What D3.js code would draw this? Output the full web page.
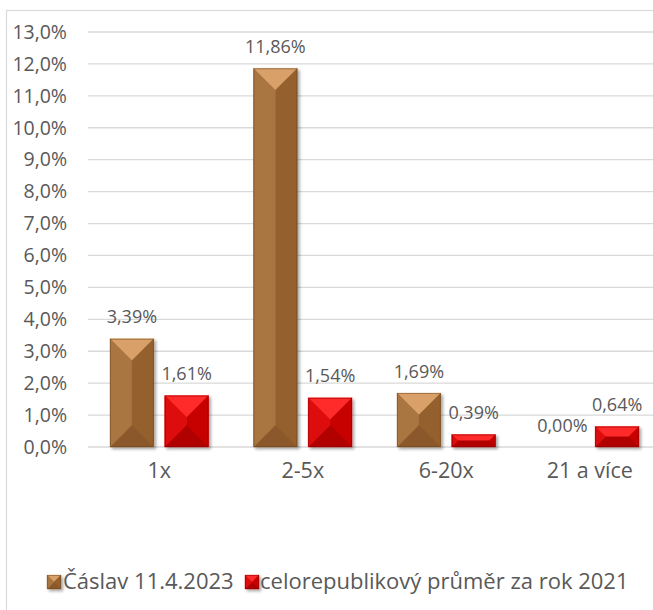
<!DOCTYPE html>
<html>
<head>
<meta charset="utf-8">
<script src="https://cdn.jsdelivr.net/npm/d3@7"></script>
<style>
  html, body { margin: 0; padding: 0; background: #fff; }
  svg { display: block; }
  text { font-family: "Open Sans", "DejaVu Sans", sans-serif; fill: #595959; }
</style>
</head>
<body>
<svg id="chart" width="653" height="610"></svg>
<script>
const categories = ["1x", "2-5x", "6-20x", "21 a více"];
const seriesNames = ["Čáslav 11.4.2023", "celorepublikový průměr za rok 2021"];
const caslav = [3.39, 11.86, 1.69, 0.00];
const celorepublika = [1.61, 1.54, 0.39, 0.64];
const yTicks = [0,1,2,3,4,5,6,7,8,9,10,11,12,13];

const palettes = [
  { top: "#D9A169", left: "#A9743F", right: "#94602E", bottom: "#8A5829", stroke: "#6F4722" },
  { top: "#FF2A2A", left: "#DE0C0C", right: "#C70606", bottom: "#B00000", stroke: "#8C0000" }
];

const svg = d3.select("#chart");
const defs = svg.append("defs");
const f = defs.append("filter").attr("id", "shadow").attr("x", "-20%").attr("y", "-20%").attr("width", "150%").attr("height", "150%");
f.append("feDropShadow").attr("dx", 2).attr("dy", 2).attr("stdDeviation", 1.6).attr("flood-color", "#000").attr("flood-opacity", 0.35);

// chart border (cropped)
svg.append("rect").attr("x", 6.5).attr("y", 10.5).attr("width", 700).attr("height", 700)
  .attr("fill", "none").attr("stroke", "#D9D9D9").attr("stroke-width", 1.2);

const x0 = d3.scaleBand().domain(categories).range([87.5, 661.5]).paddingInner(0).paddingOuter(0);
const x1 = d3.scaleBand().domain([0, 1]).range([22.5, 121]).paddingInner(0.2);
const y = d3.scaleLinear().domain([0, 13]).range([447, 32]);

// gridlines
svg.append("g").selectAll("line").data(yTicks).join("line")
  .attr("x1", 88).attr("x2", 653)
  .attr("y1", d => y(d)).attr("y2", d => y(d))
  .attr("stroke", "#D9D9D9").attr("stroke-width", 1.3);

// y axis labels
const yAxis = d3.axisLeft(y).tickValues(yTicks).tickSize(0).tickPadding(0)
  .tickFormat(d => d.toFixed(1).replace(".", ",") + "%");
const gy = svg.append("g").attr("transform", "translate(67,0)").call(yAxis);
gy.select(".domain").remove();
gy.selectAll("text").attr("font-size", 19.5).attr("fill", "#595959")
  .style("font-family", '"Open Sans", sans-serif');

// x axis labels
const xAxis = d3.axisBottom(x0).tickSize(0).tickPadding(0);
const gx = svg.append("g").attr("transform", "translate(0,463)").call(xAxis);
gx.select(".domain").remove();
gx.selectAll("text").attr("font-size", 21.5).attr("fill", "#595959")
  .style("font-family", '"Open Sans", sans-serif');

function bevel(g, x, yTop, w, h, pal) {
  if (h <= 0) return;
  const d = Math.min(w, h) / 2;
  const TL = [x, yTop], TR = [x + w, yTop], BR = [x + w, yTop + h], BL = [x, yTop + h];
  const tl = [x + d, yTop + d], tr = [x + w - d, yTop + d], br = [x + w - d, yTop + h - d], bl = [x + d, yTop + h - d];
  const faces = [
    [[TL, TR, tr, tl], pal.top],
    [[TR, BR, br, tr], pal.right],
    [[BR, BL, bl, br], pal.bottom],
    [[BL, TL, tl, bl], pal.left]
  ];
  const bg = g.append("g").attr("filter", "url(#shadow)");
  bg.append("rect").attr("x", x).attr("y", yTop).attr("width", w).attr("height", h).attr("fill", pal.left);
  faces.forEach(([pts, col]) => {
    bg.append("polygon").attr("points", pts.map(p => p.join(",")).join(" "))
      .attr("fill", col).attr("stroke", col).attr("stroke-width", 0.4);
  });
  bg.append("rect").attr("x", x + 0.5).attr("y", yTop + 0.5).attr("width", w - 1).attr("height", Math.max(0, h - 1))
    .attr("fill", "none").attr("stroke", pal.stroke).attr("stroke-width", 0.8).attr("stroke-opacity", 0.6);
}

const seriesData = [caslav, celorepublika];
const barsG = svg.append("g");
const labelsG = svg.append("g");
categories.forEach((c, i) => {
  seriesData.forEach((vals, s) => {
    const v = vals[i];
    const bx = x0(c) + x1(s);
    const bw = x1.bandwidth();
    bevel(barsG, bx, y(v), bw, y(0) - y(v), palettes[s]);
    labelsG.append("text")
      .attr("x", bx + bw / 2).attr("y", y(v) - 15.5)
      .attr("text-anchor", "middle").attr("font-size", 18)
      .text(v.toFixed(2).replace(".", ",") + "%");
  });
});

// legend
const legend = svg.append("g");
const legendItems = [
  { name: seriesNames[0], mx: 47, tx: 63 },
  { name: seriesNames[1], mx: 245, tx: 260 }
];
legendItems.forEach((it, s) => {
  bevel(legend, it.mx, 575, 14, 14, palettes[s]);
  legend.append("text").attr("x", it.tx).attr("y", 589)
    .attr("font-size", 22).text(it.name);
});
</script>
</body>
</html>
